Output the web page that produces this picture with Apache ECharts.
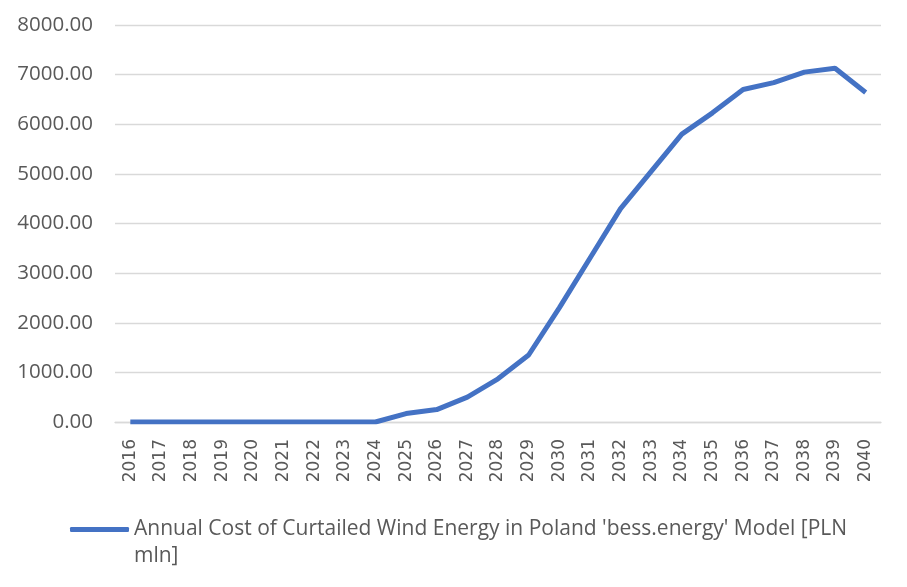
<!DOCTYPE html>
<html>
<head>
<meta charset="utf-8">
<script src="https://cdn.jsdelivr.net/npm/echarts@6/dist/echarts.min.js"></script>
<style>html,body{margin:0;padding:0;background:#fff}#c{width:907px;height:587px}</style>
</head>
<body>
<div id="c"></div>
<script>
const years = ['2016','2017','2018','2019','2020','2021','2022','2023','2024','2025','2026','2027','2028','2029','2030','2031','2032','2033','2034','2035','2036','2037','2038','2039','2040'];
const costValues = [0,0,0,0,0,0,0,0,0,170,250,500,870,1350,2300,3300,4300,5050,5800,6230,6700,6840,7050,7130,6640];
const seriesName = "Annual Cost of Curtailed Wind Energy in Poland 'bess.energy' Model [PLN mln]";

const chart = echarts.init(document.getElementById('c'));
chart.setOption({
  animation: false,
  grid: {left: 115, right: 26, top: 25, bottom: 165},
  xAxis: {
    type: 'category',
    data: years,
    boundaryGap: true,
    axisLine: {lineStyle: {color: '#d9d9d9', width: 1.3}},
    axisTick: {show: false},
    axisLabel: {rotate: 90, color: '#595959', fontFamily: 'DejaVu Sans', fontSize: 17, margin: 17, interval: 0}
  },
  yAxis: {
    type: 'value',
    min: 0, max: 8000, interval: 1000,
    axisLine: {show: false},
    axisTick: {show: false},
    splitLine: {lineStyle: {color: '#d9d9d9', width: 1.3}},
    axisLabel: {color: '#595959', fontFamily: 'Open Sans', fontSize: 20.5, margin: 22,
      formatter: v => v.toFixed(2)}
  },
  legend: {
    left: 65, top: 484,
    icon: 'roundRect',
    itemWidth: 59, itemHeight: 5, itemGap: 4,
    formatter: name => '\n' + name,
    textStyle: {color: '#595959', fontFamily: 'Open Sans', fontSize: 21, width: 735, overflow: 'break', lineHeight: 27},
    data: [seriesName]
  },
  series: [{
    name: seriesName,
    type: 'line',
    data: costValues,
    showSymbol: false,
    symbol: 'none',
    lineStyle: {color: '#4472C4', width: 5},
    itemStyle: {color: '#4472C4'}
  }]
});
</script>
</body>
</html>
